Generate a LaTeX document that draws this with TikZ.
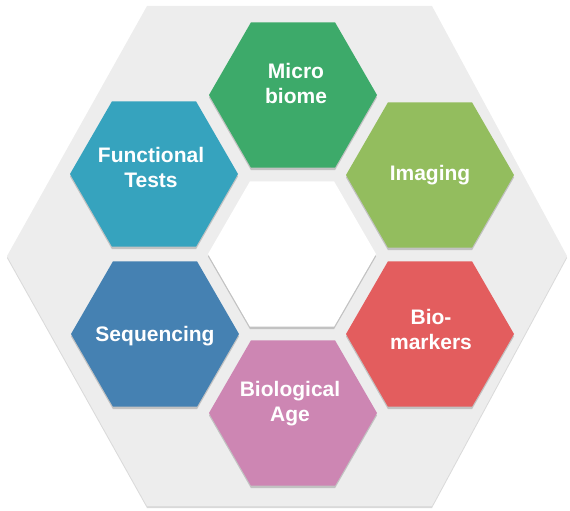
\documentclass[tikz,border=0pt]{standalone}
\usepackage{fontspec}
\setmainfont{Liberation Sans}
\usetikzlibrary{shadows}
\definecolor{bggray}{HTML}{EDEDED}
\definecolor{cmicro}{HTML}{3DAA6A}
\definecolor{cimg}{HTML}{93BD5E}
\definecolor{cfunc}{HTML}{36A3BE}
\definecolor{cseq}{HTML}{4581B2}
\definecolor{cbiom}{HTML}{E35D5E}
\definecolor{cage}{HTML}{CD86B3}
\newcommand{\hexat}[3]{(#1+#3,#2) -- (#1+0.5*#3,#2-0.866*#3) -- (#1-0.5*#3,#2-0.866*#3) -- (#1-#3,#2) -- (#1-0.5*#3,#2+0.866*#3) -- (#1+0.5*#3,#2+0.866*#3) -- cycle}
\begin{document}
\begin{tikzpicture}[x=1pt,y=-1pt,
  hexshadow/.style={drop shadow={shadow xshift=0pt,shadow yshift=-2.5pt,opacity=0.18,fill=black}},
  lbl/.style={text=white,font=\fontsize{21}{25}\selectfont\bfseries,align=center,inner sep=0pt}]
\useasboundingbox (0,0) rectangle (570,511);
% big background hexagon
\fill[bggray,drop shadow={shadow xshift=0pt,shadow yshift=-2pt,opacity=0.15,fill=black}]
  (147,6) -- (432,6) -- (567,256) -- (432,506) -- (147,506) -- (7,256) -- cycle;
% centre white hexagon
\fill[white,hexshadow] \hexat{292}{254}{84};
% coloured hexagons
\fill[cmicro,hexshadow] \hexat{293}{95}{84};
\fill[cimg,hexshadow] \hexat{430}{175}{84};
\fill[cfunc,hexshadow] \hexat{154}{174}{84};
\fill[cseq,hexshadow] \hexat{155}{334}{84};
\fill[cbiom,hexshadow] \hexat{430}{334}{84};
\fill[cage,hexshadow] \hexat{293}{413}{84};
% labels
\node[lbl] (tmicro) at (296,83) {Micro\\biome};
\node[lbl] (timg) at (430,175) {Imaging};
\node[lbl] (tfunc) at (151,167) {Functional\\Tests};
\node[lbl] (tseq) at (155,336) {Sequencing};
\node[lbl] (tbiom) at (431,329) {Bio-\\markers};
\node[lbl] (tage) at (290,404) {Biological\\Age};
\end{tikzpicture}
\end{document}
